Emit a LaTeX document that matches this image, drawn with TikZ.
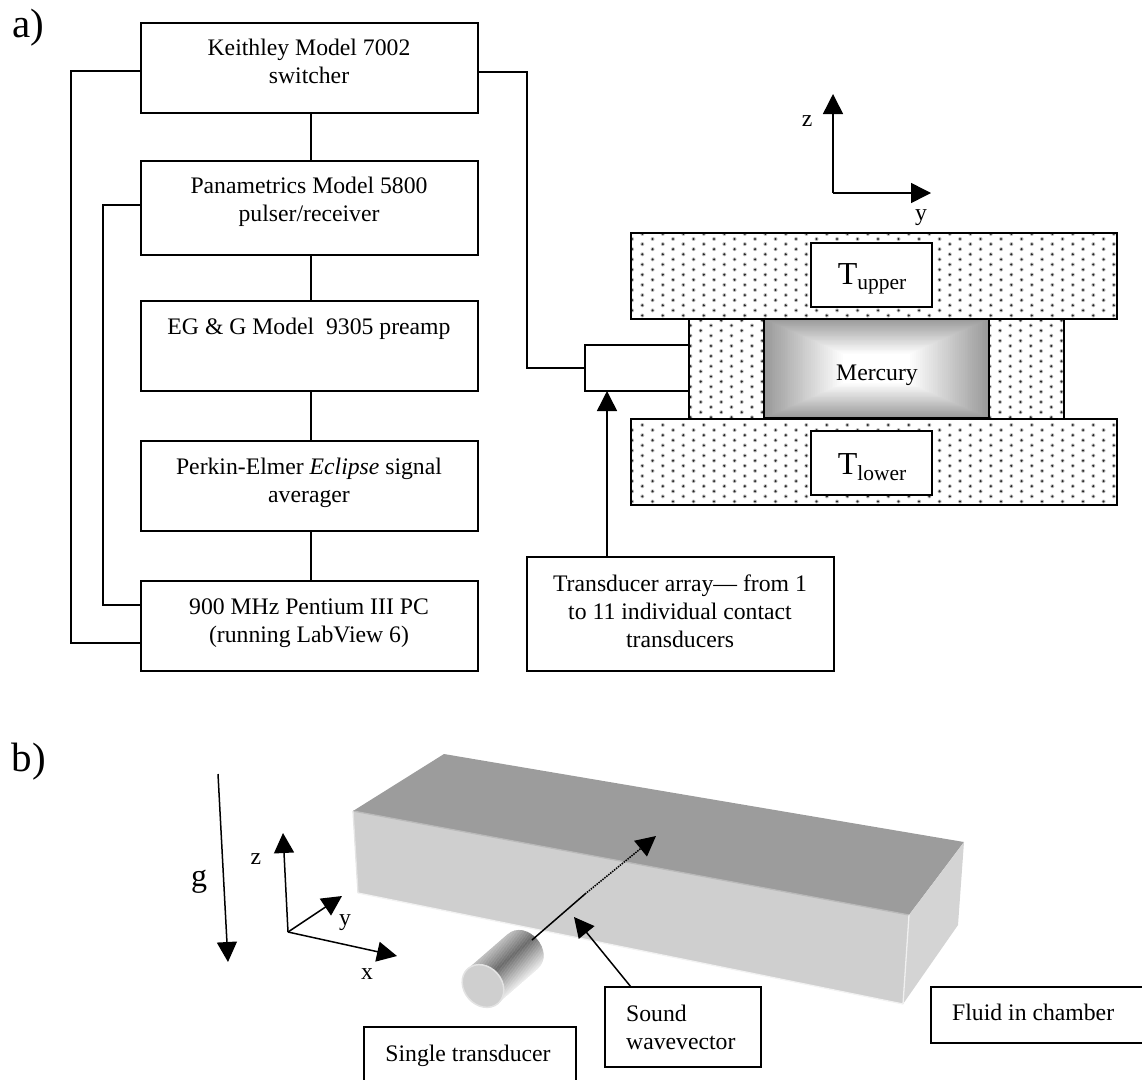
\documentclass[tikz,border=0pt]{standalone}
\usepackage{fontspec}
\setmainfont{Liberation Serif}
\usetikzlibrary{arrows.meta}
\newcommand{\bodyfont}{\fontsize{23.7}{27.8}\selectfont}
\newcommand{\bigT}[1]{{\fontsize{32}{32}\selectfont T}{\fontsize{21.5}{21.5}\selectfont\raisebox{-5.5pt}{#1}}}
% x0 y0 x1 y1 firstx firsty rows cols
\newcommand{\dotfield}[8]{%
  \begin{scope}
    \clip (#1,#2) rectangle (#3,#4);
    \foreach \j in {0,...,#7}{
      \pgfmathsetmacro{\yy}{#6+5.1*\j}
      \pgfmathsetmacro{\xoff}{mod(\j,2)*10.25}
      \foreach \k in {0,...,#8}{
        \pgfmathsetmacro{\xx}{#5+\xoff+20.5*\k}
        \fill[black!25] (\xx,\yy) circle[radius=2pt];
        \fill[black!85] (\xx,\yy) circle[radius=1.15pt];
      }
    }
  \end{scope}}
\tikzset{
  box/.style={draw=black,line width=1.5pt,fill=white,inner sep=0pt,outer sep=0pt,minimum width=#1},
  box/.default=337pt,
  txt/.style={font=\bodyfont,align=center,inner sep=0pt},
  frame/.style={draw=black,line width=1.6pt},
  wire/.style={draw=black,line width=1.5pt},
  arw/.style={draw=black,line width=1.5pt,-{Triangle[length=20pt,width=20pt]}}
}
\begin{document}
\begin{tikzpicture}[x=1pt,y=-1pt]
\useasboundingbox (0,0) rectangle (1142,1079);
% labels
\node[inner sep=0pt,font=\fontsize{41}{41}\selectfont] (la) at (28,28) {a)};
\node[inner sep=0pt,font=\fontsize{41}{41}\selectfont] (lb) at (29,762) {b)};
% block chain
\node[box,minimum height=90pt] (k) at (309.5,68) {};
\node[box,minimum height=94pt] (p) at (309.5,208) {};
\node[box,minimum height=90pt] (e) at (309.5,346) {};
\node[box,minimum height=90pt] (pe) at (309.5,486) {};
\node[box,minimum height=90pt] (pc) at (309.5,626) {};
\node[txt] (kt) at (309,61.5) {Keithley Model 7002\\switcher};
\node[txt] (pt) at (309,201.5) {Panametrics Model 5800\\pulser/receiver};
\node[txt] (et) at (309,329) {EG \& G Model\ \ 9305 preamp};
\node[txt] (pet) at (309,483) {Perkin-Elmer \textit{Eclipse} signal\\averager};
\node[txt] (pct) at (309,623) {900 MHz Pentium III PC\\(running LabView 6)};
\draw[wire] ([xshift=1.5pt]k.south) -- ([xshift=1.5pt]p.north);
\draw[wire] ([xshift=1.5pt]p.south) -- ([xshift=1.5pt]e.north);
\draw[wire] ([xshift=1.5pt]e.south) -- ([xshift=1.5pt]pe.north);
\draw[wire] ([xshift=1.5pt]pe.south) -- ([xshift=1.5pt]pc.north);
\draw[wire] ([yshift=-3pt]k.west) -- ++(-70,0) |- ([yshift=-17pt]pc.west);
\draw[wire] ([yshift=3pt]p.west) -- ++(-38,0) |- ([yshift=21pt]pc.west);
% plates
\dotfield{631}{233}{1117}{319}{621.8}{233.9}{16}{24}
\dotfield{631}{419}{1117}{505}{621.8}{425}{16}{24}
\dotfield{689}{319}{764}{419}{680.2}{320.4}{19}{4}
\dotfield{989}{319}{1064}{419}{979.5}{320.4}{19}{4}
\draw[frame] (631,233) rectangle (1117,319);
\draw[frame] (631,419) rectangle (1117,505);
\draw[frame] (689,319) -- (689,419) (1064,319) -- (1064,419);
% mercury
\foreach \i in {0,...,59}{
  \pgfmathsetmacro{\f}{1-\i/60}
  \pgfmathsetmacro{\p}{max(0,40*(\f-0.3)/0.7)}
  \fill[black!\p!white] ({876.5-112.5*\f},{368.5-49.5*\f}) rectangle ({876.5+112.5*\f},{368.5+49.5*\f});
}
\draw[frame] (764,319) rectangle (989,418);
\node[txt] (hg) at (877,375) {Mercury};
\node[box,minimum width=121pt,minimum height=64pt] (tu) at (871.5,275) {};
\node[box,minimum width=121pt,minimum height=64pt] (tl) at (871.5,463) {};
\node[inner sep=0pt] (tut) at (872,279) {\bigT{upper}};
\node[inner sep=0pt] (tlt) at (872,467) {\bigT{lower}};
% transducer box and array
\node[box,minimum width=104pt,minimum height=46pt] (sb) at (637,368) {};
\node[box,minimum width=307pt,minimum height=114pt] (tb) at (680.5,614) {};
\node[txt] (tbt) at (680,611) {Transducer array--- from 1\\to 11 individual contact\\transducers};
\draw[arw] ([xshift=-73.5pt]tb.north) -- ([xshift=-30pt]sb.south);
\draw[wire] ([yshift=-4pt]k.east) -- ++(49,0) |- (sb.west);
% axes a
\coordinate (oa) at (833,193);
\coordinate (za) at (833,94);
\coordinate (ya) at (931,193);
\draw[arw] (oa) -- (za);
\draw[arw] (oa) -- (ya);
\node[txt] (zal) at (807,121) {z};
\node[txt] (yal) at (921,218) {y};
% chamber
\fill[black!39] (444,754) -- (964,842) -- (909,915) -- (353,811) -- cycle;
\fill[black!19] (353,811) -- (909,915) -- (903,1004) -- (358,893) -- cycle;
\fill[black!17] (964,842) -- (958,925) -- (903,1004) -- (909,915) -- cycle;
\draw[black!27,line width=1.3pt] (353,811) -- (909,915);
\draw[black!10,line width=1.3pt] (353,811) -- (358,893);
\draw[black!6,line width=1.3pt] (909,915) -- (903,1004);
\draw[black!5,line width=1.3pt] (358,893) -- (903,1004);
% transducer
\begin{scope}[shift={(483,986)},rotate=41]
  \begin{scope}
    \clip (0,-23) -- (52,-23) .. controls (78,-23) and (78,23) .. (52,23) -- (0,23) -- cycle;
    \foreach \i in {-23,...,22}{
      \pgfmathsetmacro{\p}{\i<-4 ? 25+(\i+23)/19*33 : 58-(\i+4)/27*52}
      \fill[black!\p!white] (-1,\i) rectangle (75,\i+1.2);
    }
  \end{scope}
  \fill[black!19,draw=black!11,line width=1.5pt] (0,0) ellipse[x radius=19,y radius=23];
\end{scope}
% wave vector
\coordinate (w0) at (532,940);
\coordinate (w1) at (585,894);
\coordinate (w2) at (656,836);
\draw[wire] (w0) -- (w1);
\draw[arw,densely dotted] (w1) -- (w2);
% axes b
\coordinate (ob) at (288,932);
\coordinate (zb) at (283,833);
\coordinate (yb) at (342,896);
\coordinate (xb) at (397,956);
\draw[arw] (ob) -- (zb);
\draw[arw] (ob) -- (yb);
\draw[arw] (ob) -- (xb);
\node[txt] (zbl) at (256,859) {z};
\node[txt] (ybl) at (345,923) {y};
\node[txt] (xbl) at (367,974) {x};
% gravity
\coordinate (g0) at (218,774);
\coordinate (g1) at (228,962);
\draw[arw] (g0) -- (g1);
\node[inner sep=0pt,font=\fontsize{32}{32}\selectfont] (gl) at (199,882) {g};
% callouts
\node[box,minimum width=156pt,minimum height=80pt] (sv) at (683,1027) {};
\node[txt,align=left,anchor=west] (svt) at (626,1027) {Sound\\wavevector};
\coordinate (svtip) at (574,917);
\draw[arw] ([xshift=-52pt]sv.north) -- (svtip);
\node[box,minimum width=212pt,minimum height=60pt] (st) at (470,1057) {};
\node[txt] (stt) at (468,1056) {Single transducer};
\node[box,minimum width=225pt,minimum height=56pt] (fl) at (1043.5,1015) {};
\node[txt,anchor=west] (flt) at (952,1012) {Fluid in chamber};
\end{tikzpicture}
\end{document}
